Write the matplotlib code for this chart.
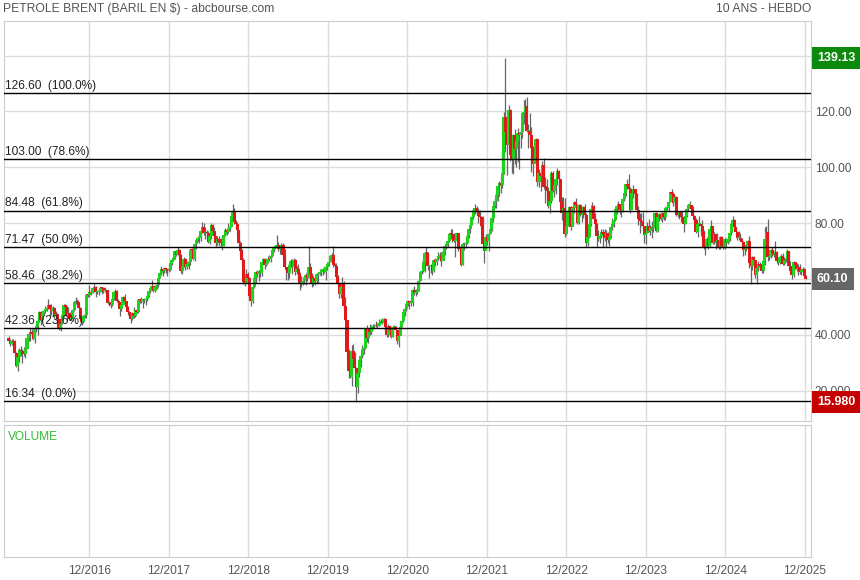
import matplotlib
matplotlib.use("Agg")
import matplotlib.pyplot as plt
import matplotlib.dates as mdates
import numpy as np
from datetime import date, timedelta

plt.rcParams['font.family'] = ['Liberation Sans', 'DejaVu Sans']

# Brent, bougies hebdomadaires (vendredi), du 11/12/2015 au 19/12/2025
first_friday = date(2015, 12, 11)
first_open = 38.9

close_2015 = [37.93, 36.88, 37.89]
high_2015 = [39.6, 38.5, 38.6]
low_2015 = [37.2, 36.05, 36.3]

close_2016 = [37.28, 33.55, 28.94, 32.18, 34.74, 34.06, 33.36, 33.01, 35.10, 38.72, 40.39, 41.20, 40.44,
              38.67, 41.94, 43.10, 45.11, 48.13, 45.37, 47.83, 48.72, 49.32, 49.64, 50.54, 49.17, 48.41,
              49.71, 46.76, 47.61, 45.69, 42.46, 44.27, 46.97, 50.88, 49.92, 46.83, 48.01, 45.77, 45.89,
              49.06, 51.93, 51.95, 51.78, 49.71, 45.58, 44.75, 46.86, 47.24, 54.46, 54.33, 55.21, 55.16, 56.82]
high_2016 = [38.4, 38.0, 33.8, 32.5, 35.3, 36.0, 35.0, 35.6, 35.5, 39.0, 41.0, 42.5, 42.0,
             40.9, 42.2, 44.6, 45.9, 48.5, 48.5, 48.3, 49.4, 50.5, 50.6, 52.9, 51.0, 51.0,
             50.4, 50.1, 48.4, 47.8, 45.8, 44.6, 47.2, 51.2, 51.2, 50.3, 50.0, 48.2, 47.8,
             49.6, 52.2, 53.7, 53.0, 51.9, 49.9, 46.6, 47.2, 49.9, 54.5, 55.0, 57.9, 56.0, 57.0]
low_2016 = [36.1, 32.2, 28.4, 27.1, 30.4, 32.5, 30.0, 32.3, 31.9, 35.0, 37.8, 37.9, 39.6,
            38.1, 37.0, 41.2, 40.1, 44.5, 43.6, 45.0, 47.0, 47.9, 48.4, 49.4, 46.6, 47.1,
            46.8, 45.9, 45.8, 45.3, 41.9, 41.5, 43.9, 46.5, 48.3, 45.1, 46.0, 45.5, 45.2,
            45.0, 48.6, 51.0, 50.5, 49.4, 45.3, 43.7, 44.4, 46.0, 45.9, 53.4, 53.7, 54.3, 55.0]

close_2017 = [57.10, 55.45, 55.49, 55.52, 56.81, 56.70, 55.81, 56.00, 55.90, 51.37, 51.76, 50.80, 52.83,
              55.24, 55.89, 52.00, 51.73, 49.10, 50.84, 53.61, 52.15, 49.95, 48.15, 47.37, 45.54, 47.92,
              46.71, 48.91, 48.06, 52.52, 52.42, 52.10, 52.72, 52.41, 52.75, 53.78, 55.62, 56.86, 57.54,
              55.62, 57.17, 57.75, 60.44, 62.07, 63.52, 62.72, 63.86, 63.73, 63.40, 63.23, 65.25, 66.87]
high_2017 = [58.4, 57.5, 56.2, 56.4, 57.2, 57.0, 57.1, 57.0, 56.6, 56.0, 52.3, 51.9, 53.1,
             55.7, 56.6, 56.0, 52.8, 51.8, 51.0, 53.9, 54.7, 52.2, 50.5, 48.4, 47.5, 48.2,
             50.0, 49.0, 49.8, 52.9, 53.0, 53.4, 52.8, 53.1, 53.0, 54.7, 55.7, 57.0, 59.5,
             57.6, 57.3, 58.5, 60.5, 62.3, 64.7, 63.6, 64.0, 64.0, 64.1, 65.8, 65.8, 67.3]
low_2017 = [55.2, 53.6, 54.6, 54.4, 55.2, 54.7, 55.1, 55.2, 54.7, 51.1, 50.3, 49.7, 50.2,
            52.5, 54.9, 51.7, 50.6, 46.6, 48.6, 50.9, 50.7, 49.4, 47.0, 46.2, 44.4, 45.4,
            46.2, 46.5, 47.9, 48.0, 51.4, 51.3, 49.7, 51.3, 50.7, 52.3, 53.7, 55.0, 56.5,
            55.2, 55.5, 56.6, 57.3, 60.2, 61.5, 61.1, 62.3, 62.2, 61.2, 62.4, 62.9, 65.0]

close_2018 = [67.62, 69.87, 68.61, 70.52, 68.58, 62.79, 64.84, 67.31, 64.37, 65.49, 66.21, 70.45, 70.27,
              67.11, 72.58, 74.06, 74.64, 74.87, 77.12, 78.51, 76.44, 76.79, 76.46, 73.44, 75.55, 79.44,
              77.11, 75.33, 73.07, 74.29, 73.21, 72.81, 71.83, 75.82, 77.42, 76.83, 78.09, 78.80, 82.72,
              84.16, 80.43, 79.78, 77.62, 72.83, 70.18, 66.76, 58.80, 58.71, 61.67, 60.28, 53.82, 52.20]
high_2018 = [68.3, 70.1, 70.4, 71.3, 70.8, 68.9, 65.0, 67.8, 67.7, 66.4, 66.6, 70.6, 71.0,
             70.4, 72.7, 74.8, 75.5, 75.3, 78.0, 80.5, 80.1, 78.5, 77.4, 77.1, 75.8, 79.9,
             79.7, 78.8, 75.5, 75.3, 75.4, 74.6, 73.4, 76.1, 78.2, 78.4, 80.1, 79.9, 82.9,
             86.74, 85.4, 81.3, 80.4, 77.6, 73.6, 70.9, 67.7, 61.3, 63.7, 62.6, 60.7, 55.1]
low_2018 = [66.4, 67.1, 68.3, 68.6, 67.6, 62.1, 61.8, 64.2, 63.1, 63.6, 63.7, 65.1, 68.6,
            66.8, 66.6, 70.6, 73.1, 72.8, 73.6, 76.6, 75.8, 74.5, 74.3, 72.9, 72.5, 74.4,
            76.5, 73.4, 71.6, 72.3, 71.9, 71.7, 70.3, 71.7, 75.4, 75.6, 76.5, 77.1, 78.6,
            82.6, 79.7, 78.1, 75.1, 72.2, 69.1, 64.6, 58.4, 57.5, 58.8, 59.4, 53.3, 50.47]

close_2019 = [57.06, 60.48, 62.70, 61.64, 62.75, 62.10, 66.25, 67.12, 65.07, 65.74, 67.16, 67.03, 68.39,
              70.34, 71.55, 71.97, 72.15, 70.85, 70.62, 72.21, 68.69, 64.49, 63.29, 62.01, 65.20, 66.55,
              64.23, 66.72, 62.47, 63.46, 61.89, 58.53, 58.64, 59.34, 60.43, 61.54, 60.22, 64.28, 61.91,
              58.37, 60.51, 59.42, 61.67, 61.69, 62.51, 63.30, 63.39, 62.43, 64.39, 65.22, 66.14, 68.16]
high_2019 = [57.3, 62.0, 62.8, 63.1, 63.4, 63.5, 66.4, 67.6, 67.5, 66.6, 68.1, 68.7, 68.7,
             70.6, 71.9, 72.3, 75.60, 73.2, 71.9, 73.0, 73.0, 70.8, 64.3, 63.4, 65.6, 67.1,
             67.3, 67.5, 67.0, 64.6, 65.3, 62.4, 61.1, 60.9, 61.3, 62.0, 63.4, 71.95, 65.9,
             62.1, 61.2, 60.8, 62.3, 62.4, 63.5, 63.6, 64.0, 64.5, 64.8, 65.6, 66.5, 68.6]
low_2019 = [51.5, 56.7, 58.6, 60.6, 59.3, 60.8, 61.0, 65.8, 63.5, 64.6, 65.7, 66.3, 66.2,
            68.0, 69.6, 70.6, 71.5, 70.0, 69.0, 69.9, 67.6, 64.0, 59.5, 59.6, 60.5, 64.4,
            61.8, 63.9, 61.6, 61.9, 59.5, 55.9, 57.0, 57.8, 58.4, 57.7, 59.4, 60.2, 61.2,
            57.1, 57.6, 57.8, 58.6, 58.6, 61.4, 61.1, 61.5, 62.1, 59.8, 63.1, 64.7, 66.1]

close_2020 = [68.60, 64.98, 64.85, 60.69, 58.16, 54.47, 57.32, 58.50, 50.52, 45.27, 33.85, 26.98, 24.93,
              34.11, 31.48, 28.08, 21.44, 26.44, 30.97, 32.50, 35.13, 35.33, 42.30, 38.73, 42.19, 41.02,
              42.80, 43.24, 43.14, 43.34, 43.30, 44.40, 44.80, 44.35, 45.81, 42.66, 39.83, 43.15, 41.92,
              39.27, 42.85, 42.93, 41.77, 37.94, 39.45, 42.78, 44.96, 48.18, 49.25, 50.97, 52.26, 51.29]
high_2020 = [69.5, 71.75, 65.9, 65.8, 61.5, 58.7, 57.5, 60.6, 59.2, 53.5, 45.3, 35.0, 31.3,
             36.3, 36.9, 33.9, 28.6, 27.0, 31.6, 32.7, 36.3, 37.0, 42.5, 43.4, 42.6, 43.8,
             43.4, 43.9, 44.0, 44.9, 44.0, 45.8, 45.6, 46.0, 46.2, 46.0, 42.8, 43.9, 43.2,
             42.3, 43.3, 43.6, 43.2, 41.8, 41.7, 44.0, 45.0, 48.7, 49.9, 51.0, 52.5, 52.2]
low_2020 = [65.6, 64.3, 63.6, 60.6, 57.5, 53.1, 53.2, 56.7, 49.3, 45.0, 31.0, 24.5, 24.4,
            21.6, 31.0, 27.0, 15.98, 19.2, 25.1, 28.6, 31.7, 33.2, 35.1, 37.5, 37.0, 40.0,
            40.2, 42.0, 42.3, 42.7, 42.4, 43.3, 44.1, 44.0, 44.6, 41.5, 39.2, 39.4, 40.8,
            38.9, 39.2, 42.0, 40.9, 36.6, 35.7, 39.9, 42.7, 44.7, 46.7, 48.5, 50.5, 49.4]

close_2021 = [51.80, 55.99, 55.10, 55.41, 55.88, 59.34, 62.43, 62.91, 66.13, 69.36, 69.22, 64.53, 64.57,
              64.86, 62.95, 66.77, 66.11, 67.25, 68.28, 68.71, 66.44, 69.63, 71.89, 72.69, 73.51, 76.18,
              76.17, 75.55, 73.59, 74.10, 76.33, 70.70, 70.59, 65.18, 72.70, 72.61, 72.92, 75.34, 78.09,
              79.28, 82.39, 84.86, 85.53, 84.38, 82.74, 82.17, 78.89, 72.72, 69.88, 75.15, 73.52, 76.14, 77.78]
high_2021 = [51.9, 56.3, 57.4, 56.6, 56.6, 59.8, 62.8, 65.5, 67.7, 69.6, 71.4, 69.7, 65.0,
             65.4, 65.0, 67.1, 67.5, 68.1, 69.8, 69.7, 69.4, 70.3, 72.0, 73.1, 75.3, 76.6,
             77.8, 77.8, 76.5, 74.2, 76.6, 76.0, 71.9, 71.0, 72.8, 73.3, 73.4, 76.0, 78.2,
             80.75, 83.5, 85.1, 86.70, 86.3, 85.5, 84.9, 82.5, 82.5, 74.0, 76.1, 76.1, 76.3, 80.0]
low_2021 = [50.2, 50.4, 54.3, 54.1, 54.5, 55.6, 59.2, 61.8, 62.5, 62.6, 67.2, 63.3, 60.3,
            62.3, 61.6, 62.4, 64.6, 64.9, 66.7, 66.5, 64.6, 66.7, 68.7, 70.7, 71.6, 73.1,
            74.4, 73.4, 73.2, 68.0, 73.7, 69.9, 68.4, 64.6, 65.0, 70.5, 71.0, 72.4, 74.7,
            76.6, 79.3, 81.5, 83.4, 82.8, 79.9, 80.7, 78.0, 72.3, 65.72, 70.4, 72.2, 70.2, 76.0]

close_2022 = [81.75, 86.06, 87.89, 90.03, 93.27, 94.44, 93.54, 97.93, 118.11, 112.67, 107.93, 120.65, 104.39,
              102.78, 111.70, 106.65, 109.34, 112.39, 111.55, 112.55, 119.43, 119.72, 122.01, 113.12, 113.12,
              111.63, 107.02, 101.16, 103.20, 110.01, 94.92, 98.15, 96.72, 100.99, 93.02, 92.84, 91.35, 86.15,
              87.96, 97.92, 91.63, 93.50, 95.77, 98.57, 95.99, 87.62, 83.63, 85.57, 76.10, 79.04, 83.92, 85.91]
high_2022 = [82.5, 86.3, 89.5, 91.7, 93.7, 95.0, 96.8, 105.8, 119.8, 139.13, 109.9, 122.2, 121.0,
             108.6, 111.9, 113.8, 110.5, 114.0, 112.4, 114.0, 119.9, 124.0, 124.3, 125.2, 115.5,
             119.4, 114.3, 107.6, 108.5, 110.5, 110.0, 99.3, 99.2, 102.4, 103.4, 96.7, 95.9, 93.1,
             89.4, 98.7, 98.8, 94.0, 96.7, 99.6, 99.1, 95.9, 89.5, 89.4, 88.9, 83.5, 84.4, 86.3]
low_2022 = [77.1, 80.6, 85.5, 85.6, 88.0, 89.9, 90.8, 92.5, 97.5, 105.6, 97.4, 107.0, 102.2,
            98.0, 97.7, 101.3, 100.2, 102.0, 99.5, 106.8, 110.5, 115.4, 117.8, 112.5, 107.0,
            108.6, 98.5, 97.0, 102.1, 100.1, 93.2, 92.8, 91.5, 95.5, 92.4, 87.2, 89.5, 85.6,
            83.7, 87.1, 91.1, 89.2, 90.3, 93.5, 92.3, 87.2, 81.3, 80.6, 75.1, 75.9, 78.9, 81.5]

close_2023 = [78.57, 85.28, 87.63, 86.66, 79.94, 86.39, 83.00, 83.16, 85.83, 82.78, 72.97, 74.99, 79.77,
              85.12, 86.31, 81.66, 79.54, 75.30, 74.17, 75.58, 76.95, 76.13, 74.79, 76.61, 73.85, 74.90,
              78.47, 79.87, 81.07, 84.99, 86.24, 86.81, 84.80, 84.48, 88.55, 90.65, 93.93, 93.27, 92.20,
              84.58, 90.89, 92.16, 90.48, 84.89, 81.43, 80.61, 80.58, 78.88, 75.84, 76.55, 79.07, 77.04]
high_2023 = [86.3, 85.6, 87.9, 89.1, 86.7, 86.9, 86.9, 83.7, 86.0, 86.8, 83.5, 76.9, 80.0,
             86.4, 87.5, 86.4, 83.5, 79.9, 77.5, 76.4, 78.0, 77.9, 77.8, 77.4, 77.0, 75.2,
             78.6, 81.8, 81.2, 85.4, 86.5, 88.1, 87.0, 84.9, 89.0, 91.2, 94.2, 95.9, 97.69,
             93.1, 91.0, 93.8, 92.0, 90.8, 86.0, 83.5, 83.5, 84.0, 79.0, 77.5, 80.6, 81.5]
low_2023 = [77.6, 78.9, 83.6, 85.3, 79.6, 79.7, 82.5, 80.5, 82.0, 81.2, 71.4, 72.0, 74.8,
            79.0, 83.7, 80.7, 77.1, 71.4, 73.8, 73.0, 74.8, 71.6, 73.7, 71.6, 73.0, 71.9,
            74.6, 77.7, 78.6, 80.7, 83.2, 84.6, 83.3, 82.3, 84.0, 88.0, 89.9, 92.1, 91.4,
            83.5, 85.1, 89.0, 87.2, 84.3, 79.2, 76.6, 79.1, 77.6, 72.8, 72.4, 76.6, 76.7]

close_2024 = [78.76, 78.29, 78.56, 83.55, 77.33, 82.19, 83.47, 81.62, 83.55, 82.08, 85.34, 85.43, 87.48,
              91.17, 90.45, 87.29, 89.50, 82.96, 82.79, 83.98, 82.12, 81.62, 79.62, 82.62, 85.24, 86.41,
              86.54, 85.03, 82.63, 81.13, 76.81, 79.66, 79.68, 79.02, 76.93, 71.06, 71.61, 74.49, 71.98,
              78.05, 79.04, 73.06, 76.05, 73.10, 73.87, 71.04, 75.17, 71.84, 71.12, 74.49, 72.94, 74.17]
high_2024 = [79.2, 80.8, 80.2, 83.8, 84.0, 82.3, 83.7, 84.0, 84.1, 84.1, 85.7, 87.6, 87.6,
             91.3, 92.2, 91.0, 89.7, 89.9, 84.1, 84.3, 84.1, 84.4, 81.6, 83.5, 85.9, 87.0,
             87.9, 86.5, 86.0, 82.8, 81.7, 80.0, 82.4, 79.8, 81.3, 77.5, 72.9, 75.0, 75.4,
             79.1, 81.2, 79.1, 76.7, 73.8, 76.6, 74.0, 75.4, 75.3, 74.0, 74.7, 74.6, 74.5]
low_2024 = [75.6, 74.8, 76.7, 78.0, 76.9, 76.9, 80.8, 81.0, 80.6, 81.3, 81.1, 84.6, 84.5,
            87.5, 88.7, 86.1, 86.3, 82.4, 82.1, 81.4, 80.6, 81.0, 76.8, 79.6, 82.1, 84.4,
            86.0, 84.2, 82.3, 80.6, 76.5, 75.1, 78.9, 75.3, 76.6, 70.8, 68.7, 71.4, 70.9,
            71.4, 76.2, 72.4, 72.6, 70.6, 72.0, 70.7, 70.8, 71.3, 70.9, 70.7, 71.8, 72.4]

close_2025 = [76.51, 79.76, 81.29, 78.50, 76.76, 74.66, 74.74, 74.43, 73.18, 70.36, 70.58, 72.16, 73.63,
              65.58, 64.76, 67.96, 66.87, 61.29, 63.91, 65.41, 64.78, 62.78, 66.47, 74.23, 77.01, 67.77,
              68.30, 70.36, 69.28, 68.44, 69.67, 66.59, 65.85, 67.73, 68.12, 65.50, 66.99, 66.68, 70.13,
              64.53, 62.73, 61.29, 65.94, 65.07, 63.63, 64.39, 62.56, 63.20, 63.75, 61.12, 60.10]
high_2025 = [76.6, 80.0, 82.6, 81.5, 78.5, 77.1, 77.1, 76.6, 74.8, 73.6, 71.2, 72.5, 74.0,
             75.3, 66.0, 68.3, 68.4, 66.7, 64.1, 66.6, 66.1, 65.4, 66.7, 78.5, 79.0, 81.40,
             70.0, 70.7, 71.5, 70.0, 73.5, 70.0, 67.1, 68.0, 69.0, 69.2, 68.0, 68.6, 70.6,
             70.1, 66.6, 63.0, 66.6, 66.0, 65.6, 65.5, 65.4, 63.4, 64.2, 63.9, 61.3]
low_2025 = [73.6, 75.9, 79.0, 77.6, 75.6, 74.1, 74.1, 74.0, 72.1, 68.3, 68.6, 70.1, 72.2,
            64.0, 58.40, 63.3, 65.3, 60.2, 58.4, 63.0, 63.4, 62.1, 62.0, 65.2, 72.6, 66.3,
            66.7, 67.6, 68.3, 67.8, 67.9, 65.9, 65.0, 65.5, 66.9, 65.0, 65.1, 66.0, 66.4,
            64.0, 62.3, 60.1, 60.6, 63.5, 63.0, 61.3, 61.9, 61.6, 61.8, 60.9, 59.9]

# retracements de Fibonacci
fib_high = 126.60
fib_low = 16.34
fib_pcts = [100.0, 78.6, 61.8, 50.0, 38.2, 23.6, 0.0]

y_ticks = [20, 40, 60, 80, 100, 120, 140]
y_labels = ['20.000', '40.000', '60.00', '80.00', '100.00', '120.00', '140.00']
x_years = list(range(2016, 2026))

close = np.array(close_2015 + close_2016 + close_2017 + close_2018 + close_2019 + close_2020
                 + close_2021 + close_2022 + close_2023 + close_2024 + close_2025)
high = np.array(high_2015 + high_2016 + high_2017 + high_2018 + high_2019 + high_2020
                + high_2021 + high_2022 + high_2023 + high_2024 + high_2025)
low = np.array(low_2015 + low_2016 + low_2017 + low_2018 + low_2019 + low_2020
               + low_2021 + low_2022 + low_2023 + low_2024 + low_2025)
opn = np.concatenate([[first_open], close[:-1]])
dates = [first_friday + timedelta(weeks=i) for i in range(len(close))]
x = mdates.date2num(dates)

W, H = 860, 580
fig = plt.figure(figsize=(W / 100, H / 100), dpi=100)
ax = fig.add_axes([3.5 / W, 1 - 421 / H, 807.2 / W, 400 / H])
vax = fig.add_axes([3.5 / W, 1 - 557 / H, 807.2 / W, 132 / H])

GREEN = '#1ed21e'
RED = '#e01a1a'
GRID = '#dcdcdc'
TXT = '#555555'

# bougies
up = close >= opn
body_lo = np.minimum(opn, close)
body_h = np.maximum(np.abs(close - opn), 0.35)
ax.vlines(x, low, high, color='#666666', linewidth=0.9, zorder=2)
ax.bar(x, body_h, bottom=body_lo, width=14, color=np.where(up, GREEN, RED), linewidth=0, zorder=3)

# lignes de Fibonacci
for p in fib_pcts:
    lvl = fib_low + (fib_high - fib_low) * p / 100
    ax.axhline(lvl, color='black', linewidth=1.0, zorder=4)
    ax.annotate(f'{lvl:.2f}  ({p:.1f}%)', xy=(0, lvl), xycoords=ax.get_yaxis_transform(),
                xytext=(1.0, 1), textcoords='offset points', ha='left', va='bottom',
                fontsize=8.6, color='#222222', zorder=5)

x_ticks = mdates.date2num([date(y, 12, 15) for y in x_years])
x_left = mdates.date2num(date(2015, 11, 17))
x_right = mdates.date2num(date(2026, 1, 11))

ax.set_xlim(x_left, x_right)
ax.set_ylim(9.17, 152.4)
ax.set_xticks(x_ticks)
ax.tick_params(axis='x', length=0, labelbottom=False)
ax.yaxis.tick_right()
ax.set_yticks(y_ticks)
ax.set_yticklabels(y_labels)
ax.tick_params(axis='y', length=0, pad=3, labelsize=8.6, labelcolor=TXT)
ax.grid(True, color=GRID, linewidth=1.0, zorder=0)
ax.set_axisbelow(True)
for s in ax.spines.values():
    s.set_color('#cccccc')

# etiquettes de valeurs a droite
ytr = ax.get_yaxis_transform()
for val, txt, col in [(high.max(), f'{high.max():.2f}', '#0b8a0b'),
                      (close[-1], f'{close[-1]:.2f}', '#666666'),
                      (low.min(), f'{low.min():.3f}', '#c40000')]:
    ax.annotate(txt, xy=(1, val), xycoords=ytr, xytext=(4.5, 0), textcoords='offset points',
                ha='left', va='center', fontsize=9, color='white', fontweight='bold',
                annotation_clip=False, zorder=10,
                bbox=dict(boxstyle='square,pad=0.42', fc=col, ec='none'))

# panneau volume (vide)
vax.set_xlim(x_left, x_right)
vax.set_ylim(0, 1)
vax.set_yticks([])
vax.set_xticks(x_ticks)
vax.set_xticklabels([f'12/{y}' for y in x_years])
vax.tick_params(axis='x', length=0, pad=6, labelsize=8.6, labelcolor=TXT)
vax.grid(True, axis='x', color=GRID, linewidth=1.0)
for s in vax.spines.values():
    s.set_color('#cccccc')
vax.text(0.006, 0.955, 'VOLUME', transform=vax.transAxes,
         ha='left', va='top', fontsize=8.6, color='#33bb33')

fig.text(3 / W, 1 - 9 / H, 'PETROLE BRENT (BARIL EN $) - abcbourse.com', ha='left', va='center',
         fontsize=8.7, color=TXT)
fig.text(811 / W, 1 - 9 / H, '10 ANS - HEBDO', ha='right', va='center', fontsize=8.7, color=TXT)

fig.savefig('out.png', dpi=100)
